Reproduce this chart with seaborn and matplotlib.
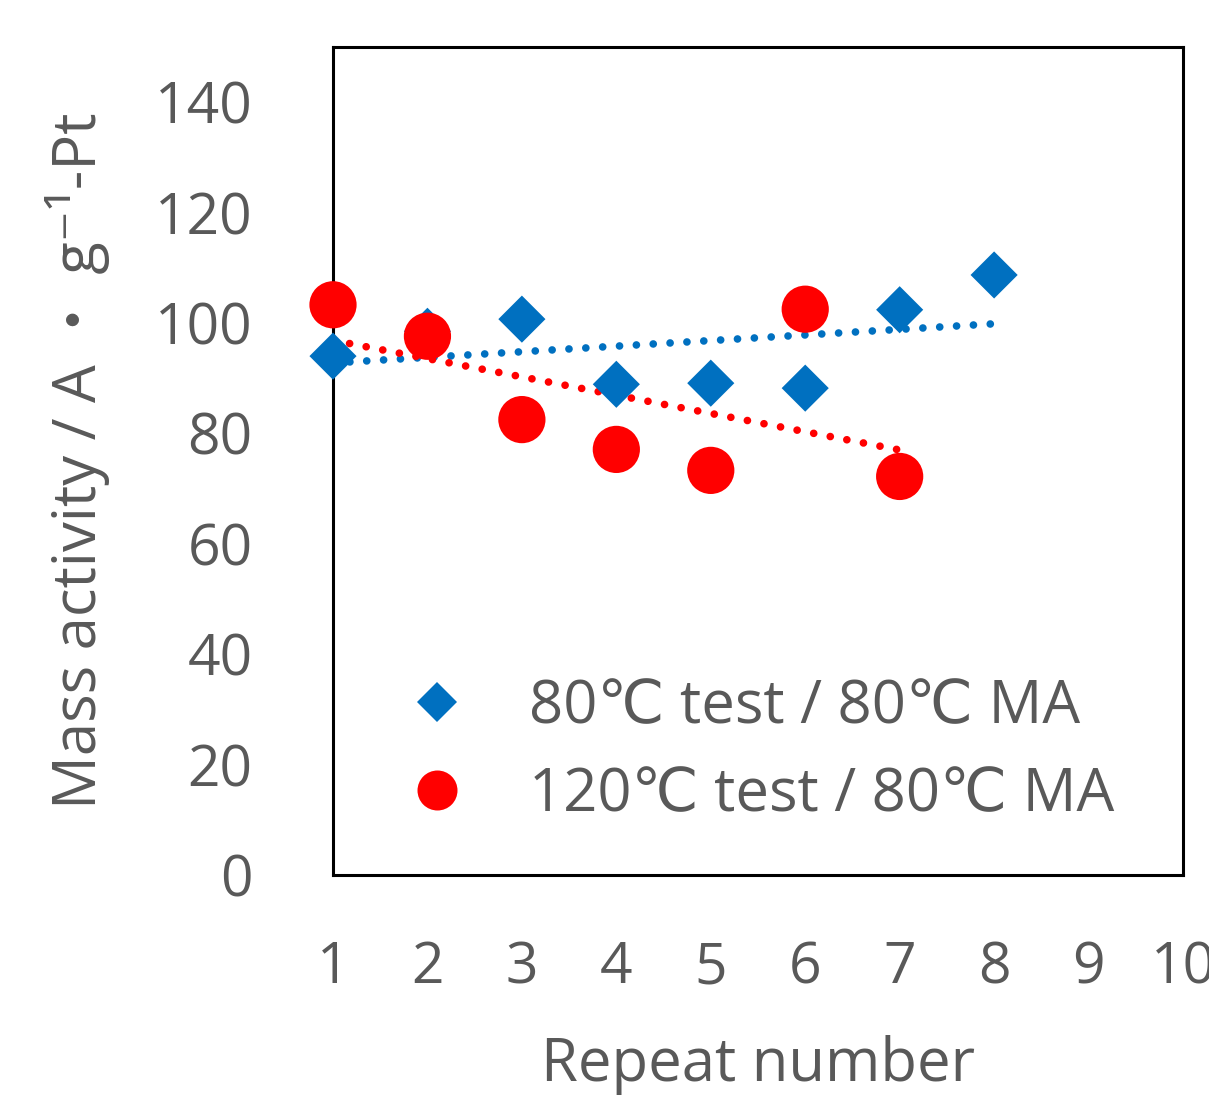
import numpy as np
import pandas as pd
import matplotlib
matplotlib.use("Agg")
import matplotlib.pyplot as plt
from matplotlib.lines import Line2D
import seaborn as sns

# ---- data ----
repeat_blue = [1, 2, 3, 4, 5, 6, 7, 8]
ma_blue = [94.0, 98.5, 100.7, 88.9, 89.1, 88.2, 102.4, 108.7]
repeat_red = [1, 2, 3, 4, 5, 6, 7]
ma_red = [103.3, 97.6, 82.5, 77.1, 73.3, 102.5, 72.2]
label_blue = "80℃ test / 80℃ MA"
label_red = "120℃ test / 80℃ MA"
x_ticks = [1, 2, 3, 4, 5, 6, 7, 8, 9, 10]
y_ticks = [0, 20, 40, 60, 80, 100, 120, 140]
x_label = "Repeat number"
y_label = "Mass activity / A ・ g⁻¹-Pt"

BLUE = "#0070C0"
RED = "#FF0000"
GRAY = "#595959"

sns.set_theme(style="white")
plt.rcParams['font.family'] = ['Open Sans', 'DejaVu Sans', 'Noto Sans CJK JP']

df_b = pd.DataFrame({"x": repeat_blue, "y": ma_blue})
df_r = pd.DataFrame({"x": repeat_red, "y": ma_red})

fig = plt.figure(figsize=(12.09, 10.98), dpi=100)
ax = fig.add_axes([333/1209, (1098-875)/1098, (1183-333)/1209, (875-47)/1098])

dot = (0, (0.01, 2.2))
sns.regplot(data=df_b, x="x", y="y", ax=ax, scatter=False, ci=None, truncate=True,
            line_kws=dict(color=BLUE, lw=5.5, ls=dot, dash_capstyle='round', zorder=2))
sns.regplot(data=df_r, x="x", y="y", ax=ax, scatter=False, ci=None, truncate=True,
            line_kws=dict(color=RED, lw=5.5, ls=dot, dash_capstyle='round', zorder=2))

sns.scatterplot(data=df_b, x="x", y="y", ax=ax, marker="D", s=24**2, color=BLUE,
                edgecolor="none", linewidth=0, zorder=3, clip_on=False)
sns.scatterplot(data=df_r, x="x", y="y", ax=ax, marker="o", s=34**2, color=RED,
                edgecolor="none", linewidth=0, zorder=4, clip_on=False)

ax.set_xlim(1, 10)
ax.set_ylim(0, 150)
ax.set_xticks(x_ticks)
ax.set_yticks(y_ticks)
ax.tick_params(axis='both', length=0, labelsize=41, labelcolor=GRAY)
ax.tick_params(axis='y', pad=58)
ax.tick_params(axis='x', pad=47)
ax.set_xlabel(x_label, fontsize=43, color=GRAY, labelpad=27)
ax.set_ylabel(y_label, fontsize=43, color=GRAY, labelpad=32)
for sp in ax.spines.values():
    sp.set_visible(True)
    sp.set_color("black")
    sp.set_linewidth(2.2)
ax.grid(False)

h_b = Line2D([], [], ls='none', marker='D', markersize=19.9,
             markerfacecolor=BLUE, markeredgewidth=0)
h_r = Line2D([], [], ls='none', marker='o', markersize=28.8,
             markerfacecolor=RED, markeredgewidth=0)
leg = ax.legend([h_b, h_r], [label_blue, label_red], loc='center left',
                bbox_to_anchor=(407/1209, (1098-751)/1098), bbox_transform=fig.transFigure,
                frameon=False, fontsize=43, handlelength=1.0, handletextpad=1.04,
                labelspacing=0.47, borderpad=0, borderaxespad=0)
for txt in leg.get_texts():
    txt.set_color(GRAY)

fig.savefig("out.png", dpi=100)
